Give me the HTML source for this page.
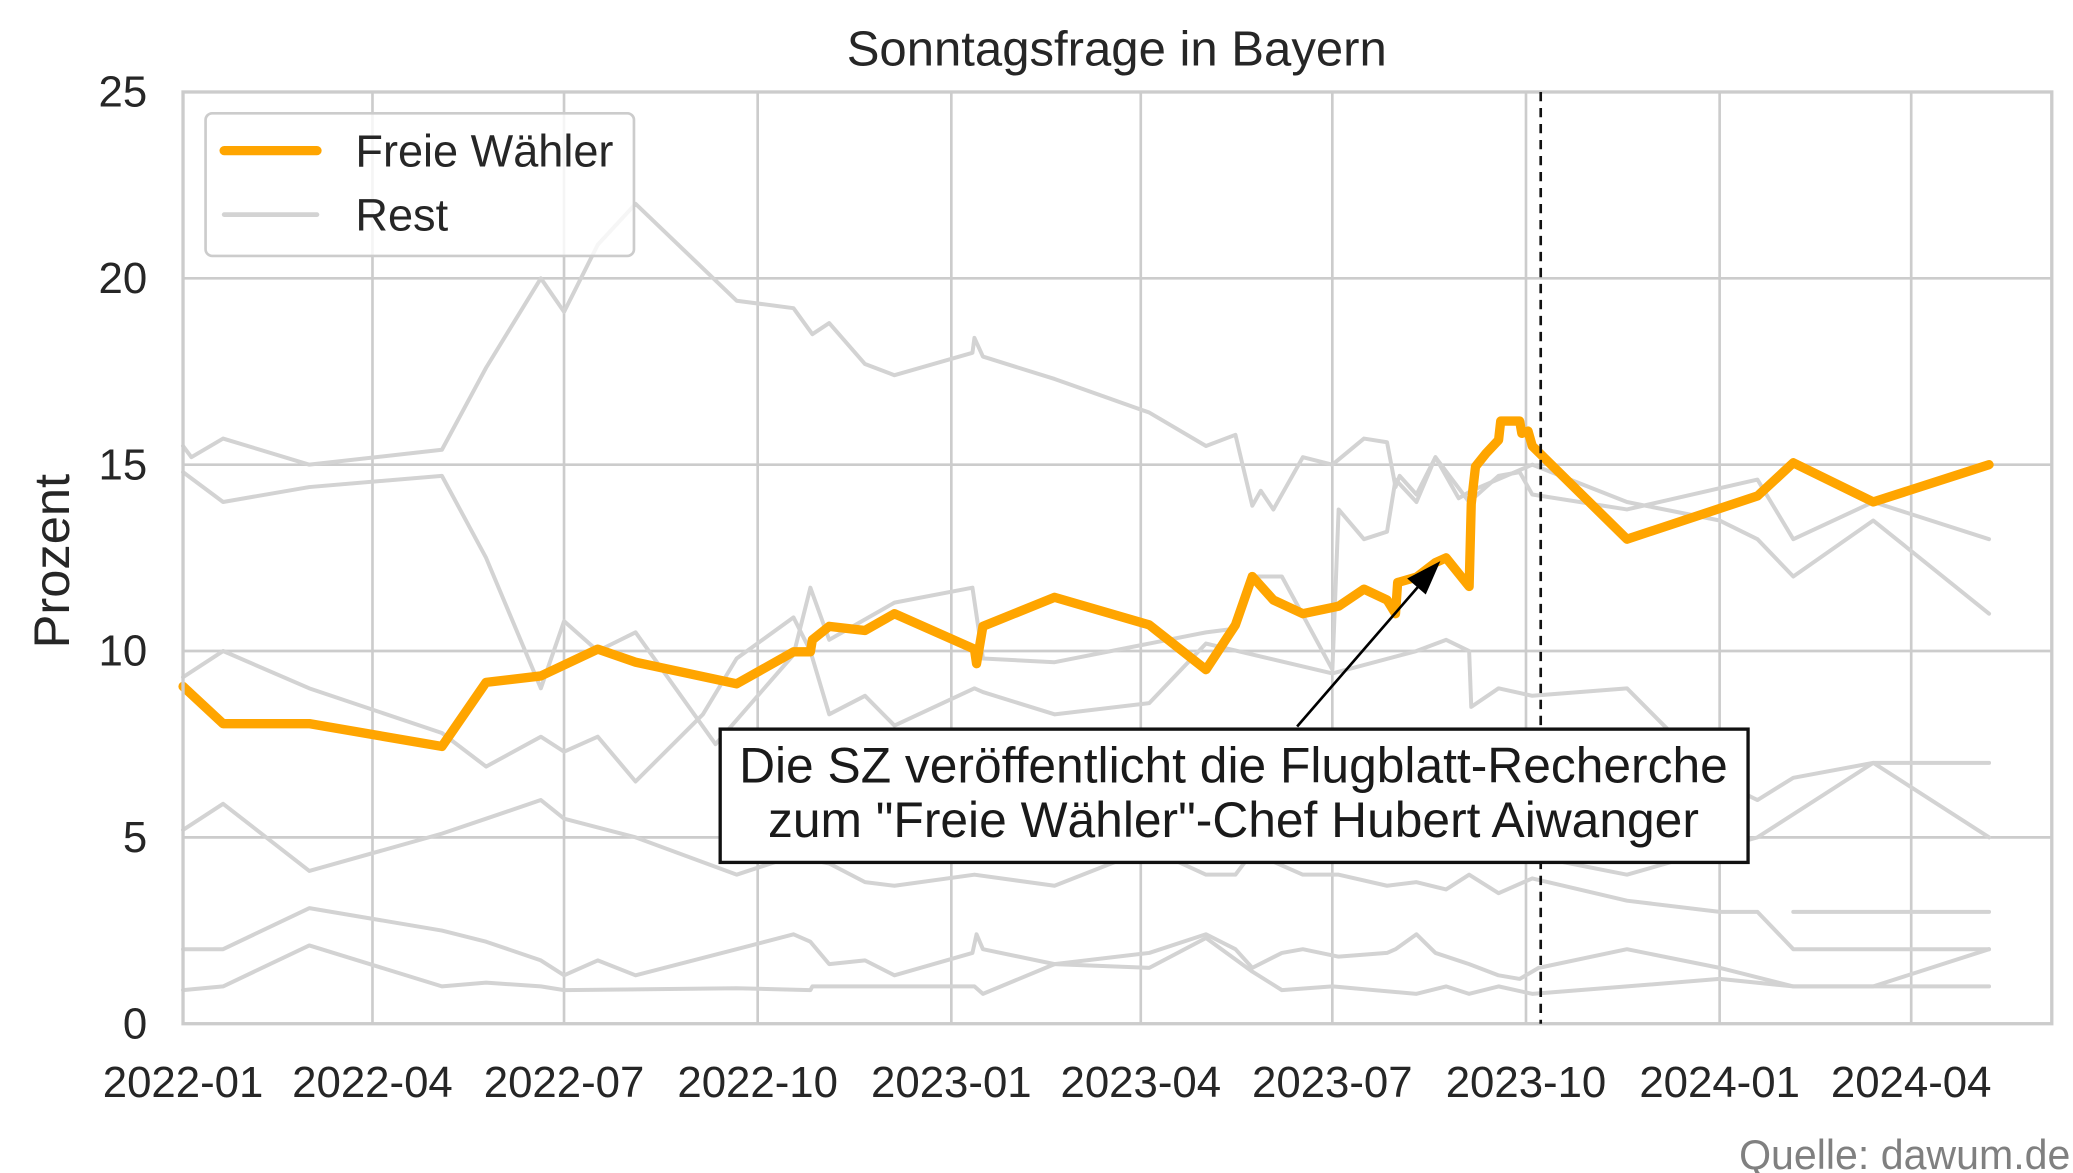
<!DOCTYPE html>
<html><head><meta charset="utf-8"><style>
html,body{margin:0;padding:0;background:#fff;}
svg{display:block;font-family:"Liberation Sans",Arial,sans-serif;}
</style></head><body>
<svg id="chart" width="2073" height="1173" viewBox="0 0 1563 880" preserveAspectRatio="none" xmlns="http://www.w3.org/2000/svg">
<rect x="0" y="0" width="1563" height="880" fill="#fff"/>
<g id="grid"></g>
<g id="rest"></g>
<g id="fw"></g>
<g id="axes"></g>
</svg>
<script>
const yTicks = [0, 5, 10, 15, 20, 25];
const xTickLabels = ["2022-01","2022-04","2022-07","2022-10","2023-01","2023-04","2023-07","2023-10","2024-01","2024-04"];
const electionDate = "2023-10-08";

const fwDates = ["2022-01-01","2022-01-20","2022-03-02","2022-05-04","2022-05-25","2022-06-20","2022-07-17","2022-08-04","2022-09-21","2022-10-18","2022-10-26","2022-10-27","2022-11-04","2022-11-21","2022-12-05","2023-01-12","2023-01-13","2023-01-16","2023-02-19","2023-04-05","2023-05-02","2023-05-16","2023-05-24","2023-06-03","2023-06-17","2023-07-04","2023-07-16","2023-07-27","2023-07-31","2023-08-01","2023-08-10","2023-08-19","2023-08-24","2023-09-04","2023-09-05","2023-09-07","2023-09-12","2023-09-18","2023-09-19","2023-09-28","2023-09-29","2023-10-02","2023-10-04","2023-11-18","2024-01-19","2024-02-05","2024-03-14","2024-05-08"];
const fwValues = [9.05,8.05,8.05,7.44,9.16,9.33,10.05,9.7,9.12,9.98,9.98,10.3,10.66,10.55,11.0,10.05,9.66,10.66,11.44,10.7,9.5,10.7,12.0,11.37,11.0,11.2,11.66,11.37,11.0,11.84,11.98,12.37,12.5,11.73,13.95,14.95,15.3,15.66,16.17,16.17,15.84,15.9,15.5,13.0,14.16,15.05,14.0,15.0];

const gruenDates = ["2022-01-01","2022-01-05","2022-01-20","2022-03-02","2022-05-04","2022-05-25","2022-06-20","2022-07-01","2022-07-17","2022-08-04","2022-09-21","2022-10-18","2022-10-27","2022-11-04","2022-11-21","2022-12-05","2023-01-11","2023-01-12","2023-01-16","2023-02-19","2023-04-05","2023-05-02","2023-05-16","2023-05-24","2023-05-28","2023-06-03","2023-06-17","2023-07-01","2023-07-16","2023-07-27","2023-07-31","2023-08-02","2023-08-10","2023-08-19","2023-08-30","2023-09-05","2023-10-04","2023-11-18","2024-01-01","2024-01-19","2024-02-05","2024-03-14","2024-05-08"];
const gruenValues = [15.5,15.2,15.7,15.0,15.4,17.6,20.0,19.1,20.9,22.0,19.4,19.2,18.5,18.8,17.7,17.4,18.0,18.4,17.9,17.3,16.4,15.5,15.8,13.9,14.3,13.8,15.2,15.0,15.7,15.6,14.4,14.7,14.2,15.2,14.1,14.3,15.0,14.0,13.5,13.0,12.0,13.5,11.0];

const afdDates = ["2022-01-01","2022-01-20","2022-03-02","2022-05-04","2022-05-25","2022-06-20","2022-07-01","2022-07-17","2022-08-04","2022-09-11","2022-10-18","2022-10-26","2022-11-04","2022-12-05","2023-01-11","2023-01-16","2023-02-19","2023-04-05","2023-05-02","2023-05-16","2023-05-24","2023-06-07","2023-07-01","2023-07-04","2023-07-16","2023-07-27","2023-07-31","2023-08-10","2023-08-19","2023-09-04","2023-09-18","2023-09-28","2023-10-04","2023-11-18","2024-01-19","2024-02-05","2024-03-14","2024-05-08"];
const afdValues = [14.8,14.0,14.4,14.7,12.5,9.0,10.8,10.0,10.5,7.5,9.9,11.7,10.3,11.3,11.7,9.8,9.7,10.2,10.5,10.6,12.0,12.0,9.5,13.8,13.0,13.2,14.6,14.0,15.2,14.0,14.7,14.8,14.2,13.8,14.6,13.0,14.0,13.0];

const spdDates = ["2022-01-01","2022-01-20","2022-03-02","2022-05-04","2022-05-25","2022-06-20","2022-07-01","2022-07-17","2022-08-04","2022-09-05","2022-09-21","2022-10-18","2022-10-26","2022-11-04","2022-11-21","2022-12-05","2023-01-12","2023-01-16","2023-02-19","2023-04-05","2023-05-02","2023-07-01","2023-08-10","2023-08-24","2023-09-04","2023-09-05","2023-09-18","2023-10-04","2023-11-18","2024-01-01","2024-01-19","2024-02-05","2024-03-14","2024-05-08"];
const spdValues = [9.3,10.0,9.0,7.8,6.9,7.7,7.3,7.7,6.5,8.3,9.8,10.9,10.0,8.3,8.8,8.0,9.0,8.9,8.3,8.6,10.2,9.4,10.0,10.3,10.0,8.5,9.0,8.8,9.0,6.5,6.0,6.6,7.0,7.0];

const fdpDates = ["2022-01-01","2022-01-20","2022-03-02","2022-05-04","2022-05-25","2022-06-20","2022-07-01","2022-08-04","2022-09-21","2022-10-18","2022-11-04","2022-11-21","2022-12-05","2023-01-12","2023-02-19","2023-04-05","2023-05-02","2023-05-16","2023-05-24","2023-06-17","2023-07-04","2023-07-27","2023-08-10","2023-08-24","2023-09-04","2023-09-18","2023-10-04","2023-11-18","2024-01-01","2024-01-19","2024-02-05","2024-03-14","2024-05-08"];
const fdpValues = [5.2,5.9,4.1,5.1,5.5,6.0,5.5,5.0,4.0,4.5,4.3,3.8,3.7,4.0,3.7,4.7,4.0,4.0,4.6,4.0,4.0,3.7,3.8,3.6,4.0,3.5,3.9,3.3,3.0,3.0,2.0,2.0,2.0];

const linkeDates = ["2022-01-01","2022-01-20","2022-03-02","2022-05-04","2022-05-25","2022-06-20","2022-07-01","2022-07-17","2022-08-04","2022-09-21","2022-10-18","2022-10-26","2022-11-04","2022-11-21","2022-12-05","2023-01-11","2023-01-13","2023-01-16","2023-02-19","2023-04-05","2023-05-02","2023-05-24","2023-06-07","2023-07-01","2023-08-10","2023-08-24","2023-09-04","2023-09-18","2023-10-04","2023-11-18","2024-01-01","2024-02-05","2024-03-14","2024-05-08"];
const linkeValues = [2.0,2.0,3.1,2.5,2.2,1.7,1.3,1.7,1.3,2.0,2.4,2.2,1.6,1.7,1.3,1.9,2.4,2.0,1.6,1.5,2.3,1.4,0.9,1.0,0.8,1.0,0.8,1.0,0.8,1.0,1.2,1.0,1.0,1.0];

const sonstDates = ["2022-01-01","2022-01-20","2022-03-02","2022-05-04","2022-05-25","2022-06-20","2022-07-01","2022-09-21","2022-10-26","2022-10-27","2023-01-12","2023-01-16","2023-02-19","2023-04-05","2023-05-02","2023-05-16","2023-05-24","2023-06-07","2023-06-17","2023-07-04","2023-07-27","2023-07-31","2023-08-10","2023-08-19","2023-09-04","2023-09-18","2023-09-28","2023-10-07","2023-11-18","2024-01-01","2024-02-05","2024-03-14","2024-05-08"];
const sonstValues = [0.9,1.0,2.1,1.0,1.1,1.0,0.9,0.95,0.9,1.0,1.0,0.8,1.6,1.9,2.4,2.0,1.5,1.9,2.0,1.8,1.9,2.0,2.4,1.9,1.6,1.3,1.2,1.5,2.0,1.5,1.0,1.0,2.0];

const extraDates = ["2023-10-04","2023-11-18","2024-01-19","2024-03-14","2024-05-08"];
const extraValues = [4.5,4.0,5.0,7.0,5.0];
const bpDates = ["2024-02-05","2024-05-08"];
const bpValues = [3.0,3.0];

const restDates = [gruenDates, afdDates, spdDates, fdpDates, linkeDates, sonstDates, extraDates, bpDates];
const restValues = [gruenValues, afdValues, spdValues, fdpValues, linkeValues, sonstValues, extraValues, bpValues];

const L=138, R=1547, T=69, B=768;
const D0 = Date.UTC(2022,0,1);
const PXDAY = (1441-138)/821;
function days(s){const p=s.split("-").map(Number);return (Date.UTC(p[0],p[1]-1,p[2]||1)-D0)/86400000;}
function xs(s){return L+days(s)*PXDAY;}
function ys(v){return B-(v/25)*(B-T);}
const NS="http://www.w3.org/2000/svg";
function mk(tag,attrs,parent,txt){const e=document.createElementNS(NS,tag);for(const k in attrs)e.setAttribute(k,attrs[k]);if(txt!==undefined)e.textContent=txt;parent.appendChild(e);return e;}
const grid=document.getElementById('grid'), rest=document.getElementById('rest'), fw=document.getElementById('fw'), axes=document.getElementById('axes');

yTicks.forEach(t=>{
  const l=mk('line',{x1:L,x2:R,y1:ys(t),y2:ys(t),stroke:'#cccccc','stroke-width':2},grid);
  
  
  const tx=mk('text',{x:L-27,y:ys(t)+11,'text-anchor':'end','font-size':33,fill:'#262626'},axes,String(t));
  
  
});
xTickLabels.forEach(t=>{
  const x=xs(t+"-01");
  const l=mk('line',{x1:x,x2:x,y1:T,y2:B,stroke:'#cccccc','stroke-width':2},grid);
  
  
  const tx=mk('text',{x:x,y:B+55,'text-anchor':'middle','font-size':33,fill:'#262626'},axes,t);
  
  
});
const frame=mk('rect',{x:L,y:T,width:R-L,height:B-T,fill:'none',stroke:'#cccccc','stroke-width':2.5},axes);



restDates.forEach((ds,i)=>{
  const pts=ds.map((d,j)=>xs(d).toFixed(1)+","+ys(restValues[i][j]).toFixed(1)).join(" ");
  const p=mk('polyline',{points:pts,fill:'none',stroke:'#d3d3d3','stroke-width':3,'stroke-linejoin':'round','stroke-linecap':'round'},rest);
  
  
});
const fwPts=fwDates.map((d,j)=>xs(d).toFixed(1)+","+ys(fwValues[j]).toFixed(1)).join(" ");
const fwl=mk('polyline',{points:fwPts,fill:'none',stroke:'#ffa500','stroke-width':7,'stroke-linejoin':'round','stroke-linecap':'round'},fw);



const ex=xs(electionDate);
const el=mk('line',{x1:ex,x2:ex,y1:T,y2:B,stroke:'#111','stroke-width':2,'stroke-dasharray':'7,5'},axes);


</script>
<svg style="position:absolute;left:0;top:0" width="2073" height="1173" viewBox="0 0 1563 880" preserveAspectRatio="none" xmlns="http://www.w3.org/2000/svg" font-family="Liberation Sans, Arial, sans-serif">
  <text x="842" y="49" text-anchor="middle" font-size="37" fill="#262626">Sonntagsfrage in Bayern</text>
  <text x="52" y="421" text-anchor="middle" font-size="38" fill="#262626" transform="rotate(-90 52 421)">Prozent</text>
  <text x="1561" y="877" text-anchor="end" font-size="31" fill="#808080">Quelle: dawum.de</text>
  <g>
    <rect x="155" y="85" width="323" height="107" rx="5" fill="#fff" fill-opacity="0.8" stroke="#cccccc" stroke-width="2"/>
    <line x1="169" y1="113" x2="239" y2="113" stroke="#ffa500" stroke-width="7" stroke-linecap="round"/>
    <text x="268" y="125" font-size="34" fill="#262626">Freie Wähler</text>
    <line x1="169" y1="161" x2="239" y2="161" stroke="#d3d3d3" stroke-width="3.5" stroke-linecap="round"/>
    <text x="268" y="173" font-size="34" fill="#262626">Rest</text>
  </g>
  <g>
    <line x1="978" y1="545" x2="1072" y2="437" stroke="#000" stroke-width="2"/>
    <polygon points="1086,421 1061,434 1075,446" fill="#000"/>
    <rect x="543" y="547" width="775" height="100" fill="#fff" stroke="#111" stroke-width="2.5"/>
    <text x="930" y="587" text-anchor="middle" font-size="37.5" fill="#1a1a1a">Die SZ veröffentlicht die Flugblatt-Recherche</text>
    <text x="930" y="628" text-anchor="middle" font-size="37.5" fill="#1a1a1a">zum "Freie Wähler"-Chef Hubert Aiwanger</text>
  </g>
</svg>
</body></html>
